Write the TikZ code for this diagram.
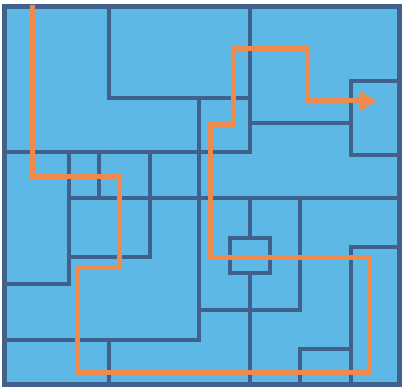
\documentclass[tikz,border=0pt]{standalone}
\usetikzlibrary{arrows.meta}
\definecolor{cellblue}{RGB}{93,184,229}
\definecolor{walldark}{RGB}{64,97,140}
\definecolor{routeorange}{RGB}{238,138,78}
\tikzset{
  wall/.style={draw=walldark,line width=4.2pt,line cap=rect},
  frame/.style={draw=walldark,fill=cellblue,line width=5pt},
  route/.style={draw=routeorange,line width=5pt,line join=miter,-{Triangle[length=17pt,width=19pt]}}
}
\begin{document}
\begin{tikzpicture}[x=1pt,y=-1pt]
\useasboundingbox[fill=white] (0,0) rectangle (402,387);
% outer frame
\draw[frame] (4.5,7) rectangle (399,384.5);
% walls
\draw[wall] (109,7) -- (109,98) -- (250,98);
\draw[wall] (250,7) -- (250,152);
\draw[wall] (5,152) -- (250,152);
\draw[wall] (199,98) -- (199,340);
\draw[wall] (250,123) -- (351,123);
\draw[wall] (399,81) -- (351,81) -- (351,155) -- (399,155);
\draw[wall] (69,198) -- (399,198);
\draw[wall] (69,152) -- (69,284) -- (5,284);
\draw[wall] (99,152) -- (99,198);
\draw[wall] (150,152) -- (150,257) -- (69,257);
\draw[wall] (5,340) -- (199,340);
\draw[wall] (109,340) -- (109,384);
\draw[wall] (199,310) -- (300,310) -- (300,198);
\draw[wall] (250,198) -- (250,238);
\draw[wall] (230,238) rectangle (270,273);
\draw[wall] (250,273) -- (250,384);
\draw[wall] (351,384) -- (351,247) -- (399,247);
\draw[wall] (300,384) -- (300,349) -- (351,349);
% route
\coordinate (start) at (32,5);
\coordinate (goal) at (377,101);
\draw[route] (start) -- (32,177) -- (119,177) -- (119,268) -- (77,268) -- (77,373)
  -- (369,373) -- (369,258) -- (210,258) -- (210,125) -- (233,125) -- (233,49)
  -- (307,49) -- (307,101) -- (goal);
\end{tikzpicture}
\end{document}
